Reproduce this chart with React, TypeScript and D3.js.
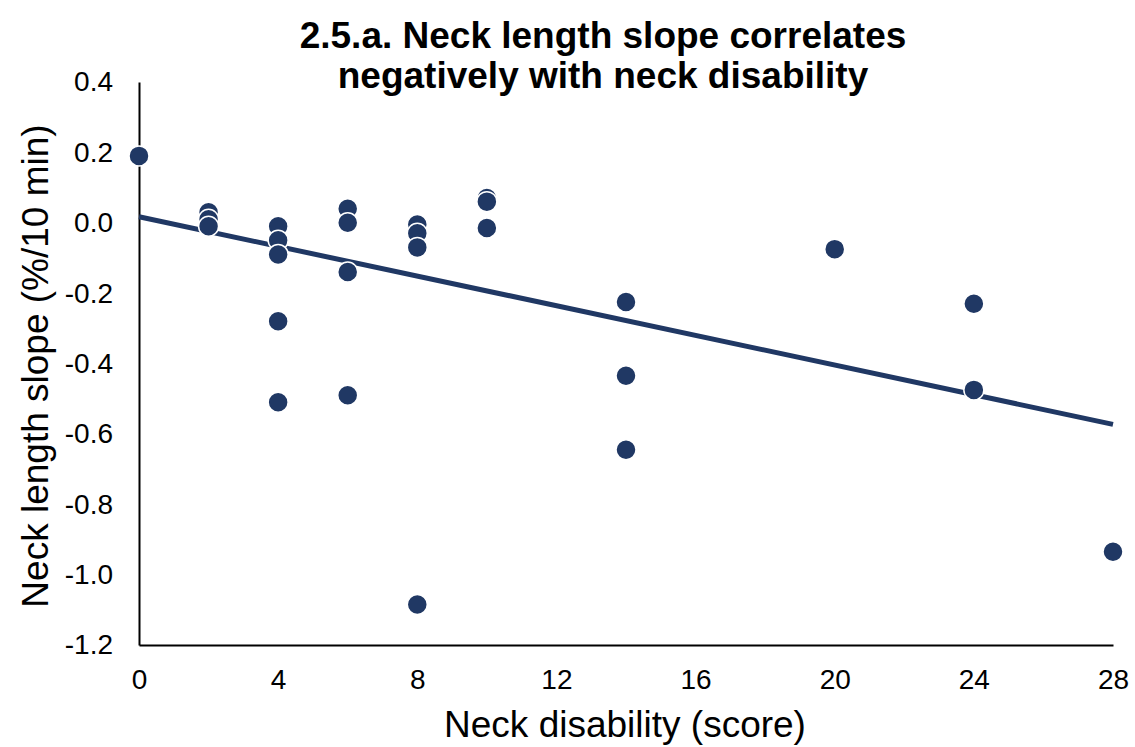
import React, { FC, useEffect, useRef } from "react"
import { scaleLinear, select, axisLeft, axisBottom, line, format } from "d3"

// neck disability score (x) and neck length slope (y)
const disability = [
  0, 2, 2, 2, 4, 4, 4, 4, 4, 6, 6, 6, 6, 8, 8, 8, 8, 10, 10, 10, 14, 14, 14, 20,
  24, 24, 28,
]
const slope = [
  0.19, 0.03, 0.01, -0.01, -0.01, -0.05, -0.09, -0.28, -0.51, 0.04, 0.0, -0.14,
  -0.49, -0.005, -0.03, -0.07, -1.085, 0.07, 0.06, -0.015, -0.225, -0.435,
  -0.645, -0.075, -0.23, -0.475, -0.935,
]
const trendX = [0, 28]
const trendY = [0.017, -0.573]
const xTicks = [0, 4, 8, 12, 16, 20, 24, 28]
const yTicks = [0.4, 0.2, 0.0, -0.2, -0.4, -0.6, -0.8, -1.0, -1.2]

const FONT = "'Liberation Sans', Arial, sans-serif"
const NAVY = "#203864"

const App: FC = () => {
  const ref = useRef<SVGSVGElement>(null)

  useEffect(() => {
    const margins = { top: 82, left: 139 }

    const svg = select(ref.current)
    svg.selectAll("*").remove()

    const bounds = svg
      .append("g")
      .attr("transform", `translate(${margins.left},${margins.top})`)

    const xScale = scaleLinear().domain([0, 28]).range([0, 974])
    const yScale = scaleLinear().domain([-1.2, 0.4]).range([563, 0])

    // y axis
    const yAxis = bounds
      .append("g")
      .call(
        axisLeft(yScale)
          .tickValues(yTicks)
          .tickSize(0)
          .tickPadding(26)
          .tickFormat(format(".1f")),
      )
    yAxis.select(".domain").attr("stroke", "#000").attr("stroke-width", 2)
    yAxis
      .selectAll("text")
      .attr("font-family", FONT)
      .attr("font-size", 28)
      .attr("fill", "#000")
      .text((d: any) => format(".1f")(d).replace("−", "-"))

    // x axis
    const xAxis = bounds
      .append("g")
      .attr("transform", `translate(0,${yScale(-1.2)})`)
      .call(axisBottom(xScale).tickValues(xTicks).tickSize(0).tickPadding(24))
    xAxis.select(".domain").attr("stroke", "#000").attr("stroke-width", 2)
    xAxis
      .selectAll("text")
      .attr("font-family", FONT)
      .attr("font-size", 28)
      .attr("fill", "#000")

    // trend line
    const trend = trendX.map((x, i) => [x, trendY[i]] as [number, number])
    const lineGen = line<[number, number]>()
      .x((d) => xScale(d[0]))
      .y((d) => yScale(d[1]))
    bounds
      .append("path")
      .attr("d", lineGen(trend))
      .attr("fill", "none")
      .attr("stroke", NAVY)
      .attr("stroke-width", 5)

    // points
    bounds
      .append("g")
      .selectAll("circle")
      .data(disability.map((x, i) => [x, slope[i]]))
      .join("circle")
      .attr("cx", (d) => xScale(d[0]))
      .attr("cy", (d) => yScale(d[1]))
      .attr("r", 10)
      .attr("fill", NAVY)
      .attr("stroke", "#fff")
      .attr("stroke-width", 1.5)

    // title
    const title = svg
      .append("text")
      .attr("text-anchor", "middle")
      .attr("font-family", FONT)
      .attr("font-size", 37)
      .attr("font-weight", "bold")
      .attr("fill", "#000")
    title.append("tspan").attr("x", 603).attr("y", 48).text("2.5.a. Neck length slope correlates")
    title.append("tspan").attr("x", 603).attr("y", 88).text("negatively with neck disability")

    // axis titles
    svg
      .append("text")
      .attr("x", 625)
      .attr("y", 737)
      .attr("text-anchor", "middle")
      .attr("font-family", FONT)
      .attr("font-size", 37)
      .attr("fill", "#000")
      .text("Neck disability (score)")

    svg
      .append("text")
      .attr("transform", `translate(48,366) rotate(-90)`)
      .attr("text-anchor", "middle")
      .attr("font-family", FONT)
      .attr("font-size", 37)
      .attr("fill", "#000")
      .text("Neck length slope (%/10 min)")
  }, [])

  return (
    <svg
      ref={ref}
      width={1135}
      height={747}
      style={{ position: "absolute", left: 0, top: 0, background: "#fff" }}
    />
  )
}

export default App
